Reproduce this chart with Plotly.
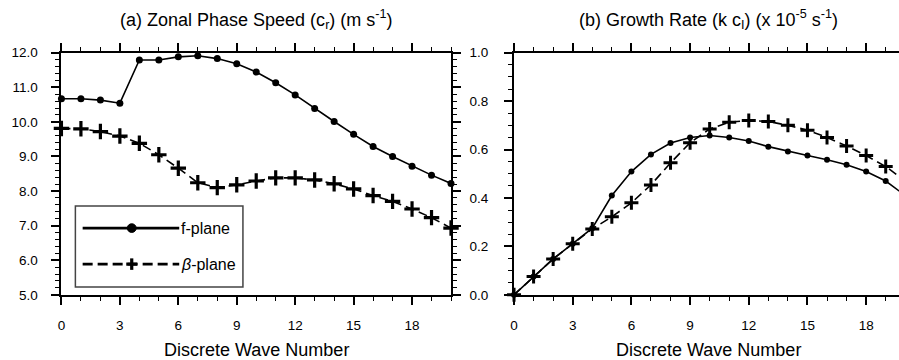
import plotly.graph_objects as go

W, H = 899, 360

# ---------------- data ----------------
wave_number = list(range(0, 21))

phase_f = [10.67, 10.67, 10.63, 10.54, 11.79, 11.79, 11.88, 11.91, 11.83, 11.68, 11.44,
           11.13, 10.78, 10.39, 10.01, 9.64, 9.29, 9.00, 8.72, 8.46, 8.22]
phase_beta = [9.81, 9.80, 9.72, 9.59, 9.38, 9.05, 8.66, 8.24, 8.10, 8.18, 8.29,
              8.38, 8.38, 8.32, 8.21, 8.06, 7.87, 7.70, 7.48, 7.23, 6.93]

growth_f = [0.0, 0.076, 0.148, 0.211, 0.275, 0.41, 0.509, 0.58, 0.627, 0.65, 0.658,
            0.65, 0.635, 0.612, 0.592, 0.575, 0.558, 0.537, 0.509, 0.47, 0.41]
growth_beta = [0.0, 0.076, 0.148, 0.211, 0.272, 0.322, 0.38, 0.454, 0.545, 0.628, 0.685,
               0.713, 0.72, 0.716, 0.70, 0.68, 0.65, 0.615, 0.575, 0.53, 0.47]

x_ticks = [0, 3, 6, 9, 12, 15, 18]
series_names = ["f-plane", "<i>β</i>-plane"]
title_a = "(a) Zonal Phase Speed (c<sub>r</sub>) (m s<sup>-1</sup>)"
title_b = "(b) Growth Rate (k c<sub>I</sub>) (x 10<sup>-5</sup> s<sup>-1</sup>)"
x_title = "Discrete Wave Number"

FONT = "Liberation Sans, Arial, Helvetica, sans-serif"


def px(x):
    return x / W


def py(y):
    return 1 - y / H


# plot area pixel geometry
L_X0, L_X1 = 57.7, 449.0
R_X0, R_X1 = 512.3, 899.0
Y_TOP, Y_BOT = 47.7, 300.3
R_XMAX = (R_X1 - R_X0) / 19.65

fig = go.Figure()

# left panel
fig.add_trace(go.Scatter(
    x=wave_number, y=phase_f, mode="lines+markers", name=series_names[0],
    line=dict(color="black", width=1.6),
    marker=dict(symbol="circle", size=7, color="black"),
    cliponaxis=False, showlegend=False, xaxis="x", yaxis="y"))
fig.add_trace(go.Scatter(
    x=wave_number, y=phase_beta, mode="lines+markers", name=series_names[1],
    line=dict(color="black", width=1.6, dash="9px,5px"),
    marker=dict(symbol="cross-thin", size=11, color="black",
                line=dict(color="black", width=3.2)),
    cliponaxis=False, showlegend=False, xaxis="x", yaxis="y"))

# right panel
fig.add_trace(go.Scatter(
    x=wave_number, y=growth_f, mode="lines+markers", name=series_names[0],
    line=dict(color="black", width=1.6),
    marker=dict(symbol="circle", size=6, color="black"),
    cliponaxis=False, showlegend=False, xaxis="x2", yaxis="y2"))
fig.add_trace(go.Scatter(
    x=wave_number, y=growth_beta, mode="lines+markers", name=series_names[1],
    line=dict(color="black", width=1.6, dash="9px,5px"),
    marker=dict(symbol="cross-thin", size=10, color="black",
                line=dict(color="black", width=3)),
    cliponaxis=False, showlegend=False, xaxis="x2", yaxis="y2"))

tickfont = dict(family=FONT, size=13.5, color="black")
minor_x = dict(dtick=1, ticks="outside", ticklen=4, tickwidth=1.3, tickcolor="black")

common_x = dict(showgrid=False, zeroline=False, showline=True, linecolor="black",
                linewidth=2, ticks="outside", ticklen=8, tickwidth=2, tickcolor="black",
                tickvals=x_ticks, tickfont=tickfont, minor=minor_x,
                ticklabelstandoff=9)

fig.update_layout(
    width=W, height=H,
    margin=dict(l=0, r=0, t=0, b=0),
    paper_bgcolor="white", plot_bgcolor="white",
    showlegend=False,
    xaxis=dict(domain=[px(L_X0), px(L_X1)], range=[0, 20], anchor="y",
               mirror="allticks", **common_x),
    yaxis=dict(domain=[py(Y_BOT), py(Y_TOP)], range=[5, 12], anchor="x",
               showgrid=False, zeroline=False, showline=True, linecolor="black",
               linewidth=2, mirror="allticks", ticks="outside", ticklen=8, tickwidth=2,
               tickcolor="black", dtick=1, tick0=5, tickformat=".1f", tickfont=tickfont,
               minor=dict(dtick=0.2, ticks="outside", ticklen=4, tickwidth=1.3,
                          tickcolor="black"),
               ticklabelstandoff=11),
    xaxis2=dict(domain=[px(R_X0), 1.0], range=[0, R_XMAX], anchor="y2",
                mirror="allticks", **common_x),
    yaxis2=dict(domain=[py(Y_BOT), py(Y_TOP)], range=[0, 1], anchor="x2",
                showgrid=False, zeroline=False, showline=True, linecolor="black",
                linewidth=2, mirror=False, ticks="outside", ticklen=8, tickwidth=2,
                tickcolor="black", dtick=0.2, tick0=0, tickformat=".1f", tickfont=tickfont,
                minor=dict(dtick=0.05, ticks="outside", ticklen=4, tickwidth=1.3,
                           tickcolor="black"),
                ticklabelstandoff=13),
)

# titles
ann = []
TITLE_Y = 13
AXT_Y = 358
ann.append(dict(text=title_a, x=px((L_X0 + L_X1) / 2), y=py(TITLE_Y), xref="paper", yref="paper",
                xanchor="center", yanchor="middle", showarrow=False,
                font=dict(family=FONT, size=18, color="black")))
ann.append(dict(text=title_b, x=px(708), y=py(TITLE_Y), xref="paper", yref="paper",
                xanchor="center", yanchor="middle", showarrow=False,
                font=dict(family=FONT, size=18, color="black")))
ann.append(dict(text=x_title, x=px((L_X0 + L_X1) / 2), y=py(AXT_Y), xref="paper", yref="paper",
                xanchor="center", yanchor="middle", showarrow=False,
                font=dict(family=FONT, size=18, color="black")))
ann.append(dict(text=x_title, x=px(708), y=py(AXT_Y), xref="paper", yref="paper",
                xanchor="center", yanchor="middle", showarrow=False,
                font=dict(family=FONT, size=18, color="black")))

# legend (drawn as decoration)
LG_X0, LG_X1, LG_Y0, LG_Y1 = 71.7, 240.0, 207.7, 292.3
shapes = []
shapes.append(dict(type="rect", xref="paper", yref="paper",
                   x0=px(LG_X0), x1=px(LG_X1), y0=py(LG_Y1), y1=py(LG_Y0),
                   line=dict(color="#444444", width=1.5), fillcolor="white", layer="above"))
ly1, ly2 = 230.7, 268.3
shapes.append(dict(type="line", xref="paper", yref="paper",
                   x0=px(79), x1=px(176), y0=py(ly1), y1=py(ly1),
                   line=dict(color="black", width=2.6), layer="above"))
shapes.append(dict(type="circle", xref="paper", yref="paper",
                   x0=px(128.3 - 4.5), x1=px(128.3 + 4.5), y0=py(ly1 + 4.5), y1=py(ly1 - 4.5),
                   line=dict(color="black", width=1), fillcolor="black", layer="above"))
shapes.append(dict(type="line", xref="paper", yref="paper",
                   x0=px(79), x1=px(176), y0=py(ly2), y1=py(ly2),
                   line=dict(color="black", width=2.6, dash="10px,5px"), layer="above"))
shapes.append(dict(type="line", xref="paper", yref="paper",
                   x0=px(128.3 - 5.5), x1=px(128.3 + 5.5), y0=py(ly2), y1=py(ly2),
                   line=dict(color="black", width=3.2), layer="above"))
shapes.append(dict(type="line", xref="paper", yref="paper",
                   x0=px(128.3), x1=px(128.3), y0=py(ly2 - 6), y1=py(ly2 + 6),
                   line=dict(color="black", width=3.2), layer="above"))
ann.append(dict(text=series_names[0], x=px(176), y=py(ly1), xref="paper", yref="paper",
                xanchor="left", yanchor="middle", showarrow=False,
                font=dict(family=FONT, size=16, color="black")))
ann.append(dict(text=series_names[1], x=px(176), y=py(ly2), xref="paper", yref="paper",
                xanchor="left", yanchor="middle", showarrow=False,
                font=dict(family=FONT, size=16, color="black")))

fig.update_layout(annotations=ann, shapes=shapes)

fig.write_html("out.html")
